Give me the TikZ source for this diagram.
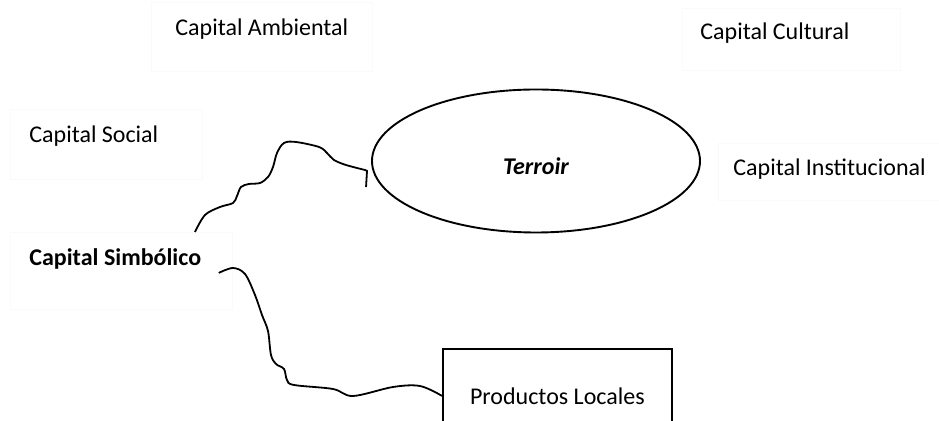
\documentclass[tikz,border=0pt]{standalone}
\usepackage{fontspec}
\setmainfont{Carlito}
\usetikzlibrary{positioning,shapes.geometric}

\tikzset{
  faint/.style={draw=black!2, anchor=north west, inner sep=0pt},
  captext/.style={anchor=base west, inner sep=0pt, font=\fontsize{12}{14}\selectfont},
  wiggle/.style={line width=0.9pt, smooth, tension=0.55},
}

\begin{document}
\begin{tikzpicture}[x=0.5pt, y=-0.5pt]
\useasboundingbox (0,0) rectangle (939,421);
\clip (0,0) rectangle (939,421);
% faint boxes and their texts
\node[faint, minimum width=110.5pt, minimum height=34.5pt] (ambbox) at (151,2) {};
\node[captext] (amb) at ([xshift=12pt, yshift=-17pt]ambbox.north west) {Capital Ambiental};
\node[faint, minimum width=109pt, minimum height=31pt] (culbox) at (682,8) {};
\node[captext] (cul) at ([xshift=9pt, yshift=-16pt]culbox.north west) {Capital Cultural};
\node[faint, minimum width=96pt, minimum height=35pt] (socbox) at (10,109) {};
\node[captext] (soc) at ([xshift=9.5pt, yshift=-17pt]socbox.north west) {Capital Social};
\node[faint, minimum width=112.5pt, minimum height=28.5pt] (insbox) at (718,143) {};
\node[captext] (ins) at ([xshift=7.5pt, yshift=-16.5pt]insbox.north west) {Capital Institucional};
\node[faint, minimum width=111pt, minimum height=38.5pt] (simbbox) at (10,232) {};
\node[captext, font=\fontsize{12}{14}\selectfont\bfseries] (simb) at ([xshift=9.5pt, yshift=-17pt]simbbox.north west) {Capital Simbólico};
% terroir and products
\node[draw, ellipse, line width=0.95pt, inner sep=0pt, minimum width=164pt, minimum height=71.5pt,
  label={[font=\fontsize{12}{14}\selectfont\bfseries\itshape, yshift=-2.5pt]center:Terroir}] (terroir) at (536,161) {};
\node[draw, line width=0.9pt, anchor=north west, inner sep=0pt, minimum width=114.5pt, minimum height=47pt,
  font=\fontsize{12}{14}\selectfont] (prod) at (442,348) {Productos Locales};
\coordinate (tstub) at ([xshift=-2.5pt, yshift=-13pt]terroir.west);
% connectors
\draw[wiggle] plot coordinates {([xshift=92.5pt]simbbox.north west) (205,215) (220,207) (233,203)
  (237,196) (241,187) (249,184) (260,183) (268,177) (273,167) (277,153) (284,143) (296,142)
  (319,147) (327,153) (334,160) (346,165) (365,170)}
  -- (367,171) -- (tstub);
\draw[wiggle] plot coordinates {([xshift=-7pt, yshift=-1pt]simbbox.east) (233,268) (245,274)
  (255,295) (262,315) (268,331) (271,355) (276,364) (284,369) (287,380) (294,385) (333,389)
  (353,396) (393,387) (420,386) (prod.west)};
\end{tikzpicture}
\end{document}
